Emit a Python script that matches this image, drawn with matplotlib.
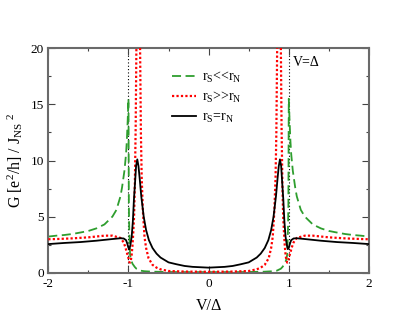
import matplotlib
matplotlib.use("Agg")
import matplotlib.pyplot as plt
from matplotlib.ticker import MultipleLocator, FormatStrFormatter

plt.rcParams['font.family'] = ['Liberation Serif', 'DejaVu Serif']
plt.rcParams['mathtext.fontset'] = 'custom'
plt.rcParams['mathtext.rm'] = 'Liberation Serif'
plt.rcParams['mathtext.it'] = 'Liberation Serif:italic'
plt.rcParams['axes.unicode_minus'] = False

# ---- data ----
v_green = [-2.0, -1.9, -1.8, -1.7, -1.6, -1.5, -1.4, -1.3, -1.2, -1.15, -1.1, -1.08,
           -1.05, -1.03, -1.02, -1.01, -1.0, -0.995, -0.99, -0.98, -0.97, -0.95, -0.92,
           -0.9, -0.85, -0.8, -0.7, -0.5, -0.3, 0.0, 0.3, 0.5, 0.7, 0.8, 0.85, 0.9, 0.92,
           0.95, 0.97, 0.98, 0.99, 0.995, 1.0, 1.01, 1.02, 1.03, 1.05, 1.08, 1.1, 1.15,
           1.2, 1.3, 1.4, 1.5, 1.6, 1.7, 1.8, 1.9, 2.0]
g_green = [3.22, 3.3, 3.36, 3.45, 3.58, 3.72, 3.95, 4.3, 5.0, 5.6, 6.8, 7.6,
           9.1, 10.6, 11.8, 13.5, 15.5, 6.0, 3.8, 1.6, 1.2, 0.8, 0.5,
           0.35, 0.18, 0.13, 0.09, 0.06, 0.05, 0.05, 0.05, 0.06, 0.09, 0.13, 0.18, 0.35, 0.5,
           0.8, 1.2, 1.6, 3.8, 6.0, 15.5, 13.5, 11.8, 10.6, 9.1, 7.6, 6.8, 5.6,
           5.0, 4.3, 3.95, 3.72, 3.58, 3.45, 3.36, 3.3, 3.22]

v_red = [-2.0, -1.9, -1.7, -1.5, -1.3, -1.2, -1.1, -1.06, -1.04, -1.02, -1.0, -0.99,
         -0.98, -0.97, -0.96, -0.95, -0.94, -0.93, -0.92, -0.91, -0.9, -0.89, -0.878,
         -0.865, -0.855, -0.845, -0.835, -0.82, -0.8, -0.78, -0.75, -0.7, -0.65, -0.6,
         -0.5, -0.3, 0.0, 0.3, 0.5, 0.6, 0.65, 0.7, 0.75, 0.78, 0.8, 0.82, 0.835, 0.845,
         0.855, 0.865, 0.878, 0.89, 0.9, 0.91, 0.92, 0.93, 0.94, 0.95, 0.96, 0.97, 0.98,
         0.99, 1.0, 1.02, 1.04, 1.06, 1.1, 1.2, 1.3, 1.5, 1.7, 1.9, 2.0]
g_red = [2.98, 3.0, 3.06, 3.15, 3.3, 3.3, 3.1, 2.7, 2.3, 1.8, 1.3, 0.95,
         0.9, 1.1, 1.6, 2.4, 3.6, 5.0, 8.0, 13.0, 21.0, 30.0, 45.0,
         32.0, 20.0, 12.5, 8.5, 5.5, 3.2, 2.2, 1.3, 0.7, 0.45, 0.3,
         0.15, 0.1, 0.08, 0.1, 0.15, 0.3, 0.45, 0.7, 1.3, 2.2, 3.2, 5.5, 8.5, 12.5,
         20.0, 32.0, 45.0, 30.0, 21.0, 13.0, 8.0, 5.0, 3.6, 2.4, 1.6, 1.1, 0.9,
         0.95, 1.3, 1.8, 2.3, 2.7, 3.1, 3.3, 3.3, 3.15, 3.06, 3.0, 2.98]

v_black = [-2.0, -1.8, -1.6, -1.4, -1.2, -1.1, -1.06, -1.03, -1.015, -1.0, -0.988,
           -0.975, -0.96, -0.945, -0.932, -0.92, -0.905, -0.89, -0.875, -0.86, -0.84,
           -0.81, -0.78, -0.745, -0.7, -0.65, -0.6, -0.5, -0.4, -0.3, -0.2, 0.0,
           0.2, 0.3, 0.4, 0.5, 0.6, 0.65, 0.7, 0.745, 0.78, 0.81, 0.84, 0.86, 0.875,
           0.89, 0.905, 0.92, 0.932, 0.945, 0.96, 0.975, 0.988, 1.0, 1.015, 1.03, 1.06,
           1.1, 1.2, 1.4, 1.6, 1.8, 2.0]
g_black = [2.55, 2.65, 2.73, 2.85, 3.0, 3.07, 3.05, 2.9, 2.6, 2.2, 2.1,
           2.5, 3.2, 4.6, 6.5, 7.8, 9.5, 10.1, 9.5, 8.4, 6.8,
           5.0, 3.8, 2.9, 2.2, 1.7, 1.35, 0.92, 0.75, 0.6, 0.52, 0.45,
           0.52, 0.6, 0.75, 0.92, 1.35, 1.7, 2.2, 2.9, 3.8, 5.0, 6.8, 8.4, 9.5,
           10.1, 9.5, 7.8, 6.5, 4.6, 3.2, 2.5, 2.1, 2.2, 2.6, 2.9, 3.05,
           3.07, 3.0, 2.85, 2.73, 2.65, 2.55]

gap_edges = [-1.0, 1.0]
labels = [r'r$_\mathrm{S}$<<r$_\mathrm{N}$',
          r'r$_\mathrm{S}$>>r$_\mathrm{N}$',
          r'r$_\mathrm{S}$=r$_\mathrm{N}$']

fig = plt.figure(figsize=(4.15, 3.21), dpi=100)
ax = fig.add_axes([0.1164, 0.1505, 0.7726, 0.699])

for xe in gap_edges:
    ax.axvline(xe, color='black', linestyle=(0, (1, 2)), lw=0.8, zorder=1)

ax.plot(v_green, g_green, color='#2e9e2e', lw=1.3, dashes=(5, 2.5), label=labels[0], zorder=2)
ax.plot(v_red, g_red, color='red', lw=1.6, linestyle=(0, (1, 1)), label=labels[1], zorder=3)
ax.plot(v_black, g_black, color='black', lw=1.3, label=labels[2], zorder=4)

ax.set_xlim(-2, 2)
ax.set_ylim(0, 20)
ax.xaxis.set_major_locator(MultipleLocator(1))
ax.xaxis.set_minor_locator(MultipleLocator(0.5))
ax.yaxis.set_major_locator(MultipleLocator(5))
ax.yaxis.set_minor_locator(MultipleLocator(2.5))
ax.xaxis.set_major_formatter(FormatStrFormatter('%d'))
ax.yaxis.set_major_formatter(FormatStrFormatter('%d'))
ax.tick_params(which='both', direction='in', top=True, right=True, labelsize=9.5,
               color='#444444', width=0.8)
ax.tick_params(which='major', length=5)
ax.tick_params(axis='x', which='major', pad=3.5)
ax.tick_params(axis='y', which='major', pad=3)
ax.tick_params(which='minor', length=2.5)
for s in ax.spines.values():
    s.set_color('#6a6a6a')
    s.set_linewidth(1.5)

ax.set_xlabel('V/Δ', fontsize=11.5, labelpad=6)
ax.set_ylabel(r'G [e$^2$/h] / J$_\mathrm{NS}$$^{\ 2}$', fontsize=11.5, labelpad=4)

ax.text(1.05, 18.75, 'V=Δ', fontsize=10, va='center', ha='left')

leg = ax.legend(loc='upper left', bbox_to_anchor=(0.386, 0.905), frameon=False,
                fontsize=10, handlelength=1.75, handletextpad=0.4, labelspacing=0.4,
                borderpad=0, borderaxespad=0)

fig.savefig('out.png', dpi=100)
